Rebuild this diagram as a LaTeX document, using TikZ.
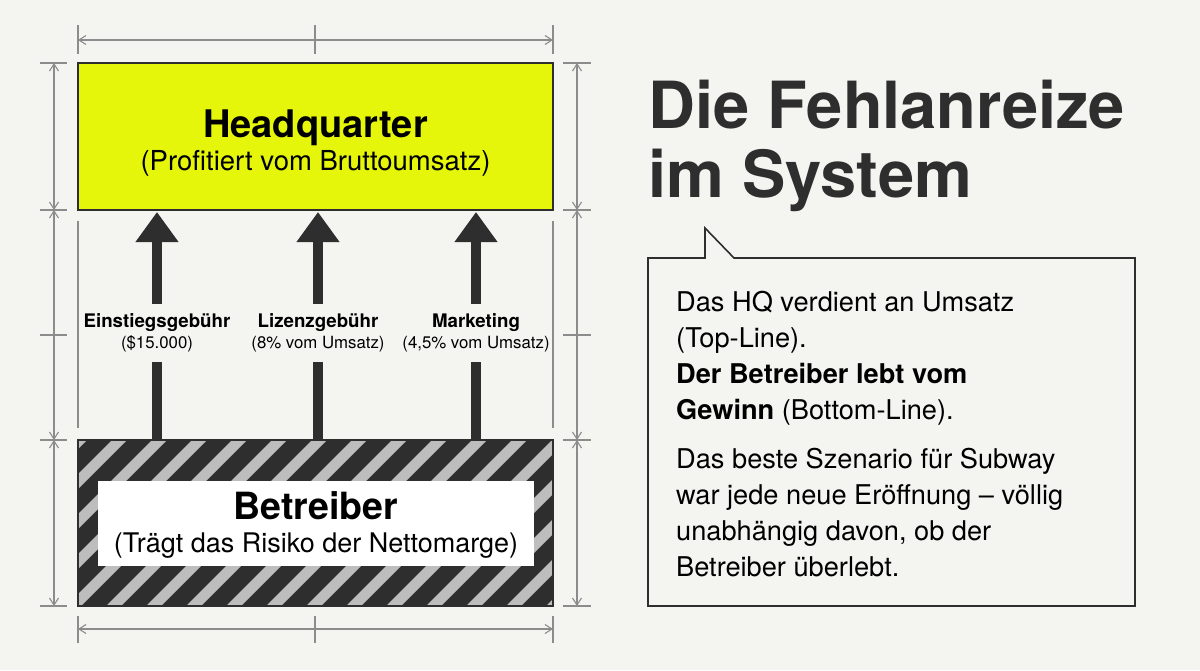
\documentclass[tikz,border=0pt]{standalone}
\usepackage{fontspec}
\setmainfont{TeX Gyre Heros}
\usepackage{tikz}
\usetikzlibrary{arrows.meta, positioning, calc}
\definecolor{bgpaper}{HTML}{F4F5F0}
\definecolor{hqyellow}{HTML}{E5F60A}
\definecolor{ink}{HTML}{2E2E2E}
\definecolor{stripegray}{HTML}{BDBDBD}
\definecolor{dimgray}{HTML}{8C8C8C}

\begin{document}
\begin{tikzpicture}[x=1pt, y=-1pt,
  dimline/.style={dimgray, line width=1.1pt},
  dimarrow/.style={dimline, {Straight Barb[length=7pt,width=9pt]}-{Straight Barb[length=7pt,width=9pt]}},
  flow/.style={ink, line width=10pt},
  flowtip/.style={flow, -{Triangle[length=30pt,width=41pt]}},
  feelabel/.style={align=center, minimum height=58pt, inner sep=0pt, text=black,
    font=\fontsize{18.7}{21}\selectfont},
  boxtitle/.style={anchor=base, text=black, font=\fontsize{38}{40}\selectfont\bfseries},
  boxnote/.style={anchor=base, text=black, font=\fontsize{27.5}{30}\selectfont},
  bodytext/.style={anchor=north west, align=left, inner sep=0pt, text=black,
    font=\fontsize{27.2}{36}\selectfont}]
\useasboundingbox (0,0) rectangle (1200,670);
\fill[bgpaper] (0,0) rectangle (1200,670);

% boxes
\node[draw=ink, line width=2pt, fill=hqyellow, minimum width=475pt, minimum height=147pt, inner sep=0pt] (hq) at (315.5,136.5) {};
\node[boxtitle] (hqname) at (315.5,137) {Headquarter};
\node[boxnote] (hqnote) at (315.5,170) {(Profitiert vom Bruttoumsatz)};

\node[fill=ink, minimum width=475pt, minimum height=166pt, inner sep=0pt] (op) at (315.5,523) {};
\begin{scope}
\clip (op.south west) rectangle (op.north east);
\foreach \s in {-2,...,16}
  \fill[stripegray] ($(op.south west)+(\s*40-132,0)$) -- ++(15,0) -- ++(166,-166) -- ++(-15,0) -- cycle;
\end{scope}
\draw[ink, line width=2pt] (op.south west) rectangle (op.north east);
\node[fill=white, minimum width=436pt, minimum height=85pt, inner sep=0pt] (opinner) at (316,523.5) {};
\node[boxtitle, font=\fontsize{37.5}{40}\selectfont\bfseries] (opname) at (316,519) {Betreiber};
\node[boxnote, font=\fontsize{27}{30}\selectfont] (opnote) at (316,552) {(Trägt das Risiko der Nettomarge)};

% fees
\node[feelabel] (fee1) at (157,333) {\textbf{Einstiegsgebühr}\\{\fontsize{16.8}{21}\selectfont(\$15.000)}};
\node[feelabel] (fee2) at (318,333) {\textbf{Lizenzgebühr}\\{\fontsize{16.8}{21}\selectfont(8\% vom Umsatz)}};
\node[feelabel] (fee3) at (476,333) {\textbf{Marketing}\\{\fontsize{16.8}{21}\selectfont(4,5\% vom Umsatz)}};
\foreach \f in {fee1,fee2,fee3} {
  \draw[flow] (op.north -| \f) -- (\f.south);
  \draw[flowtip] (\f.north) -- ([yshift=-1pt]hq.south -| \f);
}

% dimensions
\draw[dimarrow] (78,40) -- (553,40);
\draw[dimarrow] (78,629) -- (553,629);
\foreach \x in {78,315,553} {
  \draw[dimline] (\x,25) -- (\x,54);
  \draw[dimline] (\x,616) -- (\x,643);
}
\foreach \x/\a/\b in {54/40/67,577/563/591} {
  \draw[dimarrow] (\x,63) -- (\x,210);
  \draw[dimarrow] (\x,210) -- (\x,440);
  \draw[dimarrow] (\x,440) -- (\x,606);
  \foreach \y in {63,210,335,440,606}
    \draw[dimline] (\a,\y) -- (\b,\y);
}
\draw[dimline] (78,221) -- (78,428);
\draw[dimline] (553,221) -- (553,428);

% title and callout
\node[anchor=base west, inner sep=0pt, text=ink, font=\fontsize{65}{69}\selectfont\bfseries] (title1) at (648,128) {Die Fehlanreize};
\node[anchor=base west, inner sep=0pt, text=ink, font=\fontsize{65}{69}\selectfont\bfseries] (title2) at (648,197) {im System};

\draw[ink, line width=1.6pt] (648,258) -- (705,258) -- (705,228) -- (734,258) -- (1135,258)
  -- (1135,606) -- (648,606) -- cycle;
\node[bodytext] (para1) at (676,291) {Das HQ verdient an Umsatz\\(Top-Line).\\
  \textbf{Der Betreiber lebt vom}\\\textbf{Gewinn} (Bottom-Line).};
\node[bodytext] (para2) at (676,448) {Das beste Szenario für Subway\\war jede neue Eröffnung – völlig\\
  unabhängig davon, ob der\\Betreiber überlebt.};
\end{tikzpicture}
\end{document}
